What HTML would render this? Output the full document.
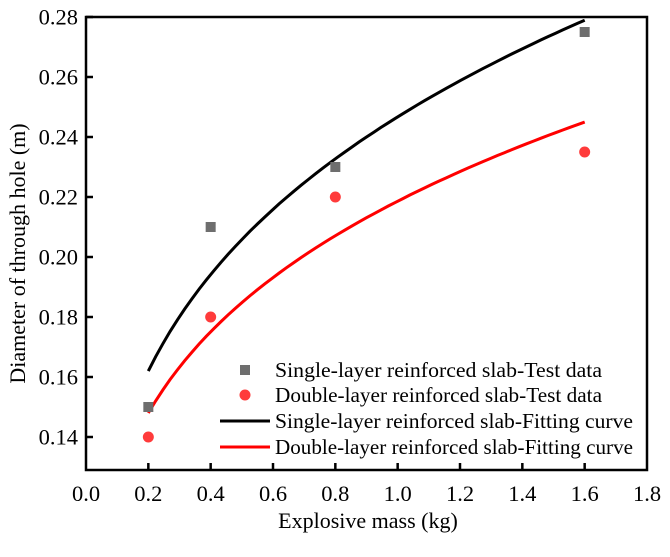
<!DOCTYPE html>
<html><head><meta charset="utf-8"><style>
body{margin:0;background:#fff}
svg text{font-family:"Liberation Serif",serif;fill:#000}
</style></head><body>
<svg id="c" width="670" height="552"></svg>
<script>
const xTicks=[0.0,0.2,0.4,0.6,0.8,1.0,1.2,1.4,1.6,1.8];
const yTicks=[0.14,0.16,0.18,0.20,0.22,0.24,0.26,0.28];
const masses=[0.2,0.4,0.8,1.6];
const singleTest=[0.150,0.210,0.230,0.275];
const doubleTest=[0.140,0.180,0.220,0.235];
const singleFit=[0.2467,0.2614];
const doubleFit=[0.2186,0.2424];
const NS='http://www.w3.org/2000/svg';
const svg=document.getElementById('c');
const L=86,R=647,T=17,B=470;
const X=v=>L+(v-0)/1.8*(R-L);
const Y=v=>T+(0.28-v)/0.02*60;
function mk(t,a){const e=document.createElementNS(NS,t);for(const k in a)e.setAttribute(k,a[k]);svg.appendChild(e);return e;}
let e=mk('rect',{x:L,y:T,width:R-L,height:B-T,fill:'none',stroke:'#000','stroke-width':2.5});


xTicks.forEach(v=>{
  if(v>0&&v<1.8){const t=mk('line',{x1:X(v),x2:X(v),y1:B,y2:B-7,stroke:'#000','stroke-width':2.5});
  
  }
  const l=mk('text',{x:X(v),y:B+31,'text-anchor':'middle','font-size':22.5});l.textContent=v.toFixed(1);
  
  
});
yTicks.forEach(v=>{
  const t=mk('line',{x1:L,x2:L+7,y1:Y(v),y2:Y(v),stroke:'#000','stroke-width':2.5});
  
  
  const l=mk('text',{x:L-8,y:Y(v)+7.5,'text-anchor':'end','font-size':22.5});l.textContent=v.toFixed(2);
  
  
});
let xt=mk('text',{x:368,y:528,'text-anchor':'middle','font-size':22});xt.textContent='Explosive mass (kg)';


let yt=mk('text',{x:0,y:0,'text-anchor':'middle','font-size':22,transform:'translate(25,'+((T+B)/2+10)+') rotate(-90)'});yt.textContent='Diameter of through hole (m)';


function curve(p,col,name){let d='';for(let i=0;i<=60;i++){const x=0.2+1.4*i/60;const y=p[0]*Math.pow(x,p[1]);d+=(i?'L':'M')+X(x).toFixed(1)+','+Y(y).toFixed(1);}
  const c=mk('path',{d:d,fill:'none',stroke:col,'stroke-width':3});
  
  }
curve(singleFit,'#000','single-fit-curve');
curve(doubleFit,'#ff0000','double-fit-curve');
masses.forEach((m,i)=>{
  const s=mk('rect',{x:X(m)-5,y:Y(singleTest[i])-5,width:10,height:10,fill:'#6e6e6e'});
  
  
  const c=mk('circle',{cx:X(m),cy:Y(doubleTest[i]),r:5.5,fill:'#ff3b3b'});
  
  
});
const leg=[['sq','Single-layer reinforced slab-Test data',370],['ci','Double-layer reinforced slab-Test data',395],['bl','Single-layer reinforced slab-Fitting curve',421],['rl','Double-layer reinforced slab-Fitting curve',447]];
leg.forEach(g=>{
  const y=g[2];
  if(g[0]=='sq'){const s=mk('rect',{x:240,y:y-5,width:10,height:10,fill:'#6e6e6e'});}
  else if(g[0]=='ci'){const s=mk('circle',{cx:245,cy:y,r:5.5,fill:'#ff3b3b'});}
  else {const s=mk('line',{x1:220,x2:270,y1:y,y2:y,stroke:g[0]=='bl'?'#000':'#ff0000','stroke-width':3});}
  const t=mk('text',{x:275,y:g[2]+7,'font-size':21,textLength:358,lengthAdjust:'spacingAndGlyphs'});t.textContent=g[1];
  if(g[0]=='sq'||g[0]=='ci'){t.setAttribute('textLength', g[0]=='sq'?327:327);}
  
  
});
</script>
</body></html>
